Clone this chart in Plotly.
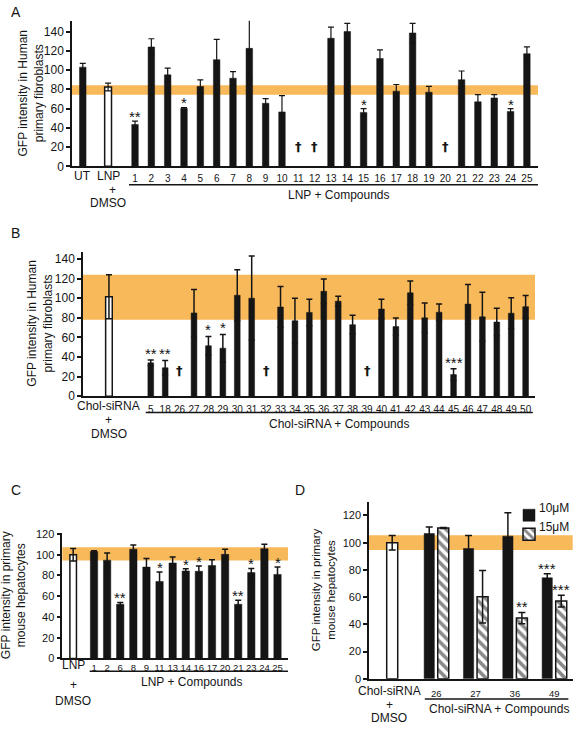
import plotly.graph_objects as go

W, H = 574, 731
FONT = "Liberation Sans, Arial, Helvetica, sans-serif"
INK = "#151515"
BAND = "#F8B95A"

# ---------------- Panel A : human fibroblasts, LNP ----------------
A_ctrl_labels = ["UT", "LNP"]
A_ctrl_values = [103, 82.4]
A_ctrl_errors = [4, 4]
A_labels = ["1", "2", "3", "4", "5", "6", "7", "8", "9", "10", "11", "12", "13",
            "14", "15", "16", "17", "18", "19", "20", "21", "22", "23", "24", "25"]
A_values = [43.5, 124, 95, 60.3, 83, 110.8, 91.5, 122.5, 65.5, 56.5, None, None, 133,
            140, 56, 112, 78, 138.5, 77, None, 90, 67, 71, 57, 117]
A_errors = [3.5, 8.5, 7, 0.8, 6.8, 21, 6.8, 31, 4.8, 17, None, None, 11.5,
            8.5, 4, 9, 7, 10, 6, None, 9, 7.5, 3.5, 3, 7]
A_band = [74.2, 84.2]
A_stars = {"1": "**", "4": "*", "15": "*", "24": "*"}
A_dagger = ["11", "12", "20"]

# ---------------- Panel B : human fibroblasts, Chol-siRNA ----------------
B_ctrl_value, B_ctrl_error = 101.5, 22.5
B_labels = ["5", "18", "26", "27", "28", "29", "30", "31", "32", "33", "34", "35", "36", "37",
            "38", "39", "40", "41", "42", "43", "44", "45", "46", "47", "48", "49", "50"]
B_values = [34, 29, None, 85, 51.5, 49, 103, 100, None, 91, 77, 85.5, 107, 97,
            73, None, 89, 71, 105.5, 80, 85.7, 22, 94, 81, 75.7, 84.7, 91.4]
B_errors = [3, 7.5, None, 24, 9.5, 14, 26, 43, None, 21, 23, 13.5, 12.5, 5,
            9.5, None, 10, 8.7, 12, 15, 8.5, 6, 20, 25, 14, 15.7, 11.4]
B_band = [78, 124]
B_stars = {"5": "**", "18": "**", "28": "*", "29": "*", "45": "***"}
B_dagger = ["26", "32", "39"]

# ---------------- Panel C : mouse hepatocytes, LNP ----------------
C_ctrl_value, C_ctrl_error = 100, 6
C_labels = ["1", "2", "6", "8", "9", "11", "13", "14", "16", "17", "20", "21", "23", "24", "25"]
C_values = [103, 94.7, 52.2, 105.3, 88, 74.2, 92, 84.3, 84, 89.6, 100.3, 52.2, 82.7, 105.7, 81]
C_errors = [0.8, 7, 1.8, 4, 8.2, 9, 5.8, 2.2, 5, 5.4, 5, 3.8, 4, 4.3, 7]
C_band = [94.3, 107.2]
C_stars = {"6": "**", "11": "*", "14": "*", "16": "*", "21": "**", "23": "*", "25": "*"}

# ---------------- Panel D : mouse hepatocytes, Chol-siRNA, 2 doses ----------------
D_ctrl_value, D_ctrl_error = 100, 5.3
D_groups = ["26", "27", "36", "49"]
D_10uM = [106.7, 95.7, 104.8, 74.2]
D_10uM_err = [4.9, 9.6, 17.2, 2.9]
D_15uM = [110.8, 60.2, 44.6, 57.1]
D_15uM_err = [0.4, 19.3, 4.1, 4.3]
D_band = [94.7, 105.5]
D_stars_10 = {"49": "***"}
D_stars_15 = {"36": "**", "49": "***"}


def fx(px):
    return px / W


def fy(px):
    return 1 - px / H


fig = go.Figure()


def err(arr, thick=1.2, w=3):
    return dict(type="data", array=arr, symmetric=True, color=INK, thickness=thick, width=w, visible=True)


# ---- A ----
A_pos = list(range(1, len(A_labels) + 1))
A_ctrl_pos = [-2.2, -0.65]
fig.add_bar(x=[A_ctrl_pos[0]] + A_pos, y=[A_ctrl_values[0]] + A_values,
            error_y=err([A_ctrl_errors[0]] + A_errors), width=0.4,
            marker=dict(color=INK, line=dict(color=INK, width=0.5)),
            xaxis="x", yaxis="y", showlegend=False, cliponaxis=False)
fig.add_bar(x=[A_ctrl_pos[1]], y=[A_ctrl_values[1]], error_y=err([A_ctrl_errors[1]]), width=0.42,
            marker=dict(color="white", line=dict(color=INK, width=1.5)),
            xaxis="x", yaxis="y", showlegend=False, cliponaxis=False)

# ---- B ----
B_pos = list(range(len(B_labels)))
B_ctrl_pos = -2.9
fig.add_bar(x=B_pos, y=B_values, error_y=err(B_errors, 1.5), width=0.4,
            marker=dict(color=INK, line=dict(color=INK, width=0.5)),
            xaxis="x2", yaxis="y2", showlegend=False, cliponaxis=False)
fig.add_bar(x=[B_ctrl_pos], y=[B_ctrl_value], error_y=err([B_ctrl_error], 1.5), width=0.46,
            marker=dict(color="white", line=dict(color=INK, width=1.5)),
            xaxis="x2", yaxis="y2", showlegend=False, cliponaxis=False)

# ---- C ----
C_pos = list(range(len(C_labels)))
C_ctrl_pos = -1.59
fig.add_bar(x=C_pos, y=C_values, error_y=err(C_errors, 1.5), width=0.56,
            marker=dict(color=INK, line=dict(color=INK, width=0.5)),
            xaxis="x3", yaxis="y3", showlegend=False, cliponaxis=False)
fig.add_bar(x=[C_ctrl_pos], y=[C_ctrl_value], error_y=err([C_ctrl_error], 1.5), width=0.5,
            marker=dict(color="white", line=dict(color=INK, width=1.5)),
            xaxis="x3", yaxis="y3", showlegend=False, cliponaxis=False)

# ---- D ----
D_pos = list(range(len(D_groups)))
D_off = 0.178
D_ctrl_pos = -1.12
fig.add_bar(x=[D_ctrl_pos], y=[D_ctrl_value], error_y=err([D_ctrl_error], 1.5, 3.5), width=0.28,
            marker=dict(color="white", line=dict(color=INK, width=1.5)),
            xaxis="x4", yaxis="y4", showlegend=False, cliponaxis=False)
fig.add_bar(x=[p - D_off for p in D_pos], y=D_10uM, error_y=err(D_10uM_err, 1.5, 3.5), width=0.26,
            marker=dict(color=INK, line=dict(color=INK, width=0.5)),
            xaxis="x4", yaxis="y4", name=" ", showlegend=True, cliponaxis=False)
fig.add_bar(x=[p + D_off for p in D_pos], y=D_15uM, error_y=err(D_15uM_err, 1.5, 3.5), width=0.28,
            marker=dict(color="white", line=dict(color=INK, width=1.5),
                        pattern=dict(shape="\\", fgcolor=INK, bgcolor="white", size=7, solidity=0.52)),
            xaxis="x4", yaxis="y4", name="  ", showlegend=True, cliponaxis=False)

# ---------------- axes ----------------
panels = {
    "": dict(x=(72, 538), y=(16, 164), xr=[-2.86, 25.68], yr=[0, 151.2], yt=[0, 20, 40, 60, 80, 100, 120, 140],
             tv=A_pos, tt=A_labels, tfs=12, xfs=10, so=2),
    "2": dict(x=(83, 535), y=(251, 397.7), xr=[-4.7, 26.65], yr=[0, 147.3], yt=[0, 20, 40, 60, 80, 100, 120, 140],
              tv=B_pos, tt=B_labels, tfs=12, xfs=10, so=3),
    "3": dict(x=(62.3, 288), y=(536.7, 664.3), xr=[-2.42, 14.8], yr=[0, 121], yt=[0, 20, 40, 60, 80, 100, 120],
              tv=C_pos, tt=C_labels, tfs=11, xfs=9.5, so=-1),
    "4": dict(x=(369, 572.7), y=(505, 685), xr=[-1.71, 3.47], yr=[0, 130.1], yt=[0, 20, 40, 60, 80, 100, 120],
              tv=D_pos, tt=D_groups, tfs=11, xfs=9.5, so=5),
}
layout_axes = {}
for k, p in panels.items():
    layout_axes["xaxis" + k] = dict(
        domain=[fx(p["x"][0]), fx(p["x"][1])], range=p["xr"], anchor="y" + k,
        showline=True, linecolor=INK, linewidth=1.5, ticks="", ticklen=0, showgrid=False, zeroline=False,
        tickmode="array", tickvals=p["tv"], ticktext=p["tt"], tickangle=0,
        tickfont=dict(family=FONT, size=p["xfs"], color=INK), ticklabelstandoff=p["so"], fixedrange=True)
    layout_axes["yaxis" + k] = dict(
        domain=[fy(p["y"][1]), fy(p["y"][0])], range=p["yr"], anchor="x" + k,
        showline=True, linecolor=INK, linewidth=1.5, ticks="outside", ticklen=4, tickwidth=1.5, tickcolor=INK,
        showgrid=False, zeroline=False, tickmode="array", tickvals=p["yt"],
        tickfont=dict(family=FONT, size=p["tfs"], color=INK), fixedrange=True)

# ---------------- shapes ----------------
shapes = []
for k, band in [("", A_band), ("2", B_band), ("3", C_band), ("4", D_band)]:
    shapes.append(dict(type="rect", xref=("x" + k + " domain") if k else "x domain", yref="y" + k,
                       x0=0, x1=1, y0=band[0], y1=band[1], fillcolor=BAND, line=dict(width=0), layer="below"))
for k, x0, x1, ypx in [("", 0.63, 25.68, 182.7), ("2", -0.35, 26.5, 414.3),
                       ("3", -0.33, 14.8, 677.3), ("4", -0.29, 3.36, 705.7)]:
    shapes.append(dict(type="line", xref="x" + k, yref="paper", x0=x0, x1=x1, y0=fy(ypx), y1=fy(ypx),
                       line=dict(color=INK, width=1.5)))

# ---------------- annotations ----------------
ann = []


def text(x, y, s, size=12, xref="paper", yref="paper", family=FONT, **kw):
    d = dict(x=x, y=y, text=s, xref=xref, yref=yref, showarrow=False,
             font=dict(family=family, size=size, color=INK), xanchor="center", yanchor="middle")
    d.update(kw)
    ann.append(d)


# panel letters
text(fx(15.5), fy(7), "A", 14)
text(fx(15.5), fy(232), "B", 14)
text(fx(15.5), fy(493), "C", 14)
text(fx(300), fy(493), "D", 14)

# y titles
text(fx(31), fy(90), "GFP intensity in Human<br>primary fibroblasts", 12, textangle=-90)
text(fx(40), fy(324), "GFP intensity in Human<br>primary fibroblasts", 12, textangle=-90)
text(fx(14), fy(600), "GFP intensity in primary<br>mouse hepatocytes", 12, textangle=-90)
text(fx(323), fy(595), "GFP intensity in primary<br>mouse hepatocytes", 11.5, textangle=-90)

# control labels
text(A_ctrl_pos[0], fy(174), A_ctrl_labels[0], 12, xref="x")
text(A_ctrl_pos[1], fy(174), A_ctrl_labels[1], 12, xref="x")
text(A_ctrl_pos[1] + 0.3, fy(188), "+", 12, xref="x")
text(A_ctrl_pos[1], fy(201.5), "DMSO", 12, xref="x")
text(13.5, fy(193), "LNP + Compounds", 12, xref="x")

text(B_ctrl_pos, fy(407.7), "Chol-siRNA", 12, xref="x2")
text(B_ctrl_pos, fy(422), "+", 12, xref="x2")
text(B_ctrl_pos, fy(436), "DMSO", 12, xref="x2")
text(13.06, fy(426), "Chol-siRNA + Compounds", 12, xref="x2")

text(C_ctrl_pos, fy(671), "LNP", 12, xref="x3")
text(C_ctrl_pos, fy(691), "+", 12, xref="x3")
text(C_ctrl_pos, fy(707.5), "DMSO", 12, xref="x3")
text(7.5, fy(688), "LNP + Compounds", 12, xref="x3")

text(-1.2, fy(697.7), "Chol-siRNA", 12, xref="x4")
text(-1.2, fy(711.7), "+", 12, xref="x4")
text(-1.2, fy(725), "DMSO", 12, xref="x4")
text(1.59, fy(715.5), "Chol-siRNA + Compounds", 12, xref="x4")

# legend text
text(fx(537), fy(511.5), "10μM", 12, xanchor="left")
text(fx(537), fy(530.5), "15μM", 12, xanchor="left")

# significance stars and daggers
DAG = "DejaVu Sans, Liberation Sans, sans-serif"
for lab, s in A_stars.items():
    i = A_labels.index(lab)
    text(A_pos[i], A_values[i] + A_errors[i], s, 15, xref="x", yref="y", yanchor="bottom", yshift=-6)
for lab in A_dagger:
    text(A_pos[A_labels.index(lab)], 20.7, "<b>†</b>", 13, xref="x", yref="y", family=DAG)
for lab, s in B_stars.items():
    i = B_labels.index(lab)
    text(B_pos[i], B_values[i] + B_errors[i], s, 15, xref="x2", yref="y2", yanchor="bottom", yshift=-4)
for lab in B_dagger:
    text(B_pos[B_labels.index(lab)], 26, "<b>†</b>", 13, xref="x2", yref="y2", family=DAG)
for lab, s in C_stars.items():
    i = C_labels.index(lab)
    text(C_pos[i], C_values[i] + C_errors[i], s, 15, xref="x3", yref="y3", yanchor="bottom", yshift=-6)
for lab, s in D_stars_10.items():
    i = D_groups.index(lab)
    text(D_pos[i] - D_off, D_10uM[i] + D_10uM_err[i], s, 15, xref="x4", yref="y4", yanchor="bottom", yshift=-5)
for lab, s in D_stars_15.items():
    i = D_groups.index(lab)
    text(D_pos[i] + D_off, D_15uM[i] + D_15uM_err[i], s, 15, xref="x4", yref="y4", yanchor="bottom", yshift=-5)

fig.update_layout(
    width=W, height=H, autosize=False, margin=dict(l=0, r=0, t=0, b=0),
    paper_bgcolor="white", plot_bgcolor="white", barmode="overlay",
    font=dict(family=FONT, size=12, color=INK),
    shapes=shapes, annotations=ann, showlegend=True,
    legend=dict(x=fx(509), y=fy(504), xanchor="left", yanchor="top", bgcolor="rgba(0,0,0,0)",
                font=dict(family=FONT, size=12), tracegroupgap=0, itemwidth=30),
    **layout_axes,
)

fig.write_html("out.html", config={"displayModeBar": False},
               post_script="document.body.style.margin='0px';document.body.style.overflow='hidden';")
